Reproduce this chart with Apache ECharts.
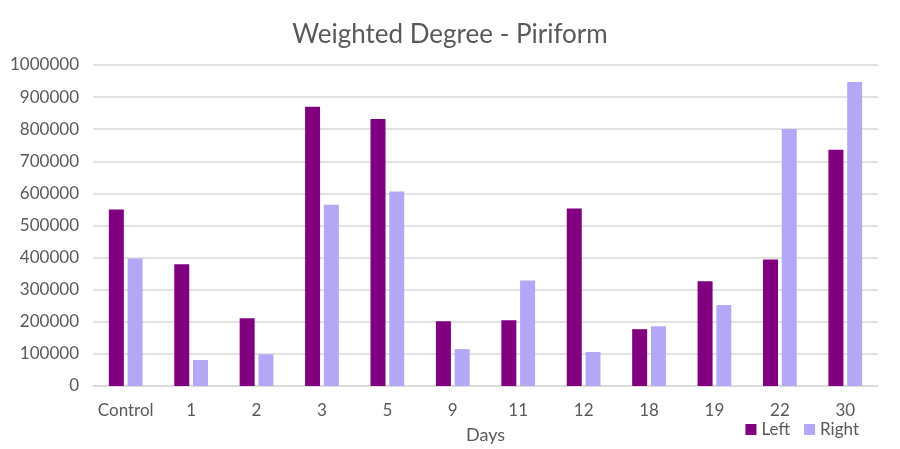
<!DOCTYPE html>
<html><head><meta charset="utf-8">
<script src="https://cdn.jsdelivr.net/npm/echarts@6/dist/echarts.min.js"></script>
<style>html,body{margin:0;padding:0;background:#fff}#c{width:900px;height:449px}</style>
</head><body><div id="c"></div>
<script>
const categories = ['Control','1','2','3','5','9','11','12','18','19','22','30'];
const leftValues = [550000,379000,211000,870000,832000,202000,205000,553000,177000,326000,394000,736000];
const rightValues = [397000,81000,99000,565000,606000,115000,329000,106000,186000,252000,801000,947000];
const yTicks = {min:0, max:1000000, interval:100000};

const font = 'Lato, "Open Sans", sans-serif';
const chart = echarts.init(document.getElementById('c'));
chart.setOption({
  animation:false,
  title:{text:'Weighted Degree - Piriform',left:'center',top:17,
    textStyle:{fontFamily:font,fontSize:26,fontWeight:'normal',color:'#595959'}},
  legend:{right:36,bottom:6,itemWidth:11,itemHeight:11,itemGap:14,icon:'rect',
    textStyle:{fontFamily:font,fontSize:17,color:'#595959'},
    data:['Left','Right']},
  grid:{left:93,right:22,top:65,bottom:62},
  xAxis:{type:'category',data:categories,name:'Days',nameLocation:'middle',nameGap:40,
    nameTextStyle:{fontFamily:font,fontSize:18,color:'#595959'},
    axisTick:{show:false},
    axisLine:{lineStyle:{color:'#d9d9d9',width:1.5}},
    axisLabel:{fontFamily:font,fontSize:17,color:'#595959',margin:16,interval:0}},
  yAxis:{type:'value',min:yTicks.min,max:yTicks.max,interval:yTicks.interval,
    axisLine:{show:false},axisTick:{show:false},
    splitLine:{lineStyle:{color:'#d9d9d9',width:1.5}},
    axisLabel:{fontFamily:font,fontSize:17,color:'#595959',margin:14,formatter:v=>String(v)}},
  series:[
    {name:'Left',type:'bar',data:leftValues,barWidth:15,barGap:'25%',itemStyle:{color:'#800080'}},
    {name:'Right',type:'bar',data:rightValues,barWidth:15,itemStyle:{color:'#b4a8f6'}}
  ]
});
</script></body></html>
